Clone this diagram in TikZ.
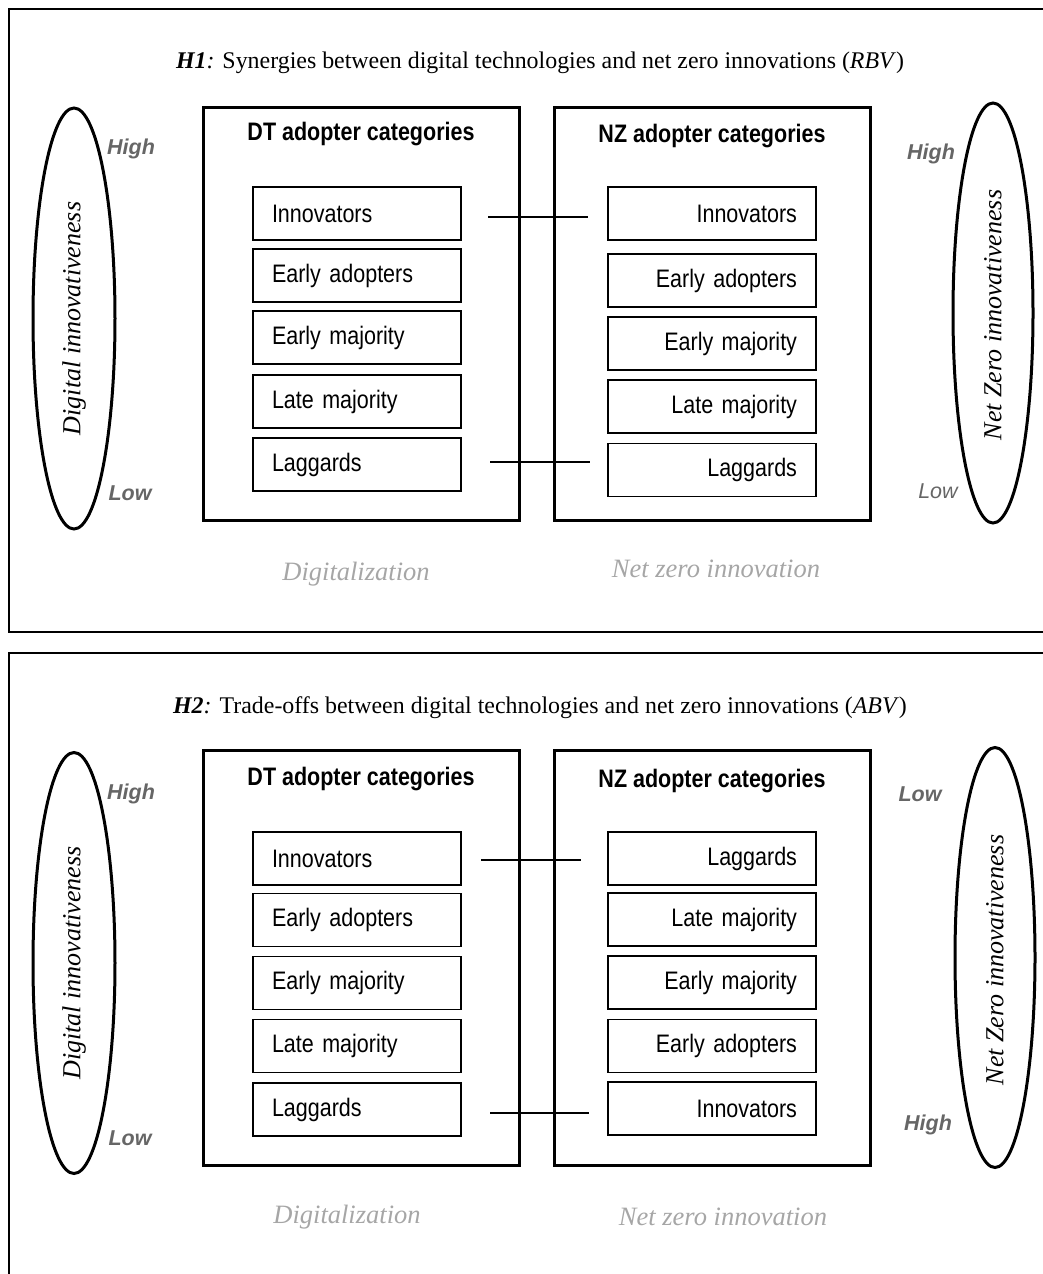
\documentclass[tikz,border=0pt]{standalone}
\usepackage{fontspec}
\setmainfont{Liberation Serif}
\setsansfont{Liberation Sans}
\newfontfamily\narrowsans[FakeStretch=0.85]{Liberation Sans}
\usetikzlibrary{shapes.geometric}
\definecolor{lvl}{HTML}{666666}
\definecolor{area}{HTML}{A6A6A6}
\tikzset{
  panel/.style={draw, line width=2.2pt},
  catbox/.style={draw, line width=3pt},
  item/.style={draw, line width=1.2pt, minimum height=53pt, text width=170pt, inner xsep=19pt, inner ysep=0pt,
    font=\narrowsans\fontsize{25.3}{28}\selectfont},
  itemL/.style={item, align=left},
  itemR/.style={item, align=right},
  header/.style={font=\narrowsans\bfseries\fontsize{25.3}{28}\selectfont},
  axis/.style={draw, ellipse, line width=3pt, minimum width=82pt, minimum height=421pt, inner sep=0pt},
  axistext/.style={rotate=90, font=\itshape\fontsize{26}{28}\selectfont},
  lvlb/.style={text=lvl, font=\sffamily\bfseries\itshape\fontsize{21.5}{24}\selectfont},
  lvln/.style={text=lvl, font=\sffamily\itshape\fontsize{21.5}{24}\selectfont},
  areatext/.style={text=area, font=\itshape\fontsize{26.5}{28}\selectfont},
  title/.style={font=\fontsize{23.9}{26}\selectfont},
  link/.style={line width=1.1pt}
}
\begin{document}
\begin{tikzpicture}[x=1pt,y=-1pt]
\useasboundingbox (0,0) rectangle (1043,1274);

% ===== Panel 1 =====
\draw[panel] (9,9) rectangle (1060,632);
\node[title] (t1) at (540,63) {\textbf{\textit{H1}}\textit{:} Synergies between digital technologies and net zero innovations (\textit{RBV})};

\node[axis] (e1l) at (74,318.5) {};
\node[axistext] (e1lt) at (74,318.5) {Digital innovativeness};
\node[lvlb] (h1l) at (131,149) {High};
\node[lvlb] (lo1l) at (130,493) {Low};

\node[axis, minimum width=80pt, minimum height=420pt] (e1r) at (993,313) {};
\node[axistext] (e1rt) at (993,315) {Net Zero innovativeness};
\node[lvlb] (h1r) at (931,154) {High};
\node[lvln] (lo1r) at (938,491) {Low};

\node[catbox, minimum width=316pt, minimum height=413pt] (dt1) at (361,313.5) {};
\node[catbox, minimum width=316pt, minimum height=413pt] (nz1) at (712,313.5) {};
\node[header] (dt1h) at (361,134) {DT adopter categories};
\node[header] (nz1h) at (712,136) {NZ adopter categories};

\node[itemL] (a1) at (357,213.5) {Innovators};
\node[itemL] (a2) at (357,275.5) {Early adopters};
\node[itemL] (a3) at (357,337.5) {Early majority};
\node[itemL] (a4) at (357,401.5) {Late majority};
\node[itemL] (a5) at (357,464.5) {Laggards};

\node[itemR] (b1) at (712,213.5) {Innovators};
\node[itemR] (b2) at (712,280.5) {Early adopters};
\node[itemR] (b3) at (712,343.5) {Early majority};
\node[itemR] (b4) at (712,406.5) {Late majority};
\node[itemR] (b5) at (712,470) {Laggards};

\coordinate (k1a) at (488,217);
\coordinate (k1b) at (588,217);
\coordinate (k2a) at (490,462);
\coordinate (k2b) at (590,462);
\draw[link] (k1a) -- (k1b);
\draw[link] (k2a) -- (k2b);

\node[areatext] (d1) at (356,574) {Digitalization};
\node[areatext] (n1) at (716,569) {Net zero innovation};

% ===== Panel 2 =====
\draw[panel] (9,653) rectangle (1060,1290);
\node[title] (t2) at (540,708) {\textbf{\textit{H2}}\textit{:} Trade-offs between digital technologies and net zero innovations (\textit{ABV})};

\node[axis] (e2l) at (74,963) {};
\node[axistext] (e2lt) at (74,963) {Digital innovativeness};
\node[lvlb] (h2l) at (131,794) {High};
\node[lvlb] (lo2l) at (130,1138) {Low};

\node[axis, minimum width=80pt, minimum height=420pt] (e2r) at (995,957.5) {};
\node[axistext] (e2rt) at (995,960) {Net Zero innovativeness};
\node[lvlb] (lo2r) at (920,794) {Low};
\node[lvlb] (h2r) at (928,1125) {High};

\node[catbox, minimum width=316pt, minimum height=415pt] (dt2) at (361,957.5) {};
\node[catbox, minimum width=316pt, minimum height=415pt] (nz2) at (712,957.5) {};
\node[header] (dt2h) at (361,779) {DT adopter categories};
\node[header] (nz2h) at (712,781) {NZ adopter categories};

\node[itemL] (c1) at (357,858.5) {Innovators};
\node[itemL] (c2) at (357,920) {Early adopters};
\node[itemL] (c3) at (357,983) {Early majority};
\node[itemL] (c4) at (357,1046) {Late majority};
\node[itemL] (c5) at (357,1109.5) {Laggards};

\node[itemR] (g1) at (712,858.5) {Laggards};
\node[itemR] (g2) at (712,919.5) {Late majority};
\node[itemR] (g3) at (712,982.5) {Early majority};
\node[itemR] (g4) at (712,1046) {Early adopters};
\node[itemR] (g5) at (712,1108.5) {Innovators};

\coordinate (k3a) at (481,860);
\coordinate (k3b) at (581,860);
\coordinate (k4a) at (490,1113);
\coordinate (k4b) at (589,1113);
\draw[link] (k3a) -- (k3b);
\draw[link] (k4a) -- (k4b);

\node[areatext] (d2) at (347,1217) {Digitalization};
\node[areatext] (n2) at (723,1217) {Net zero innovation};
\end{tikzpicture}
\end{document}
